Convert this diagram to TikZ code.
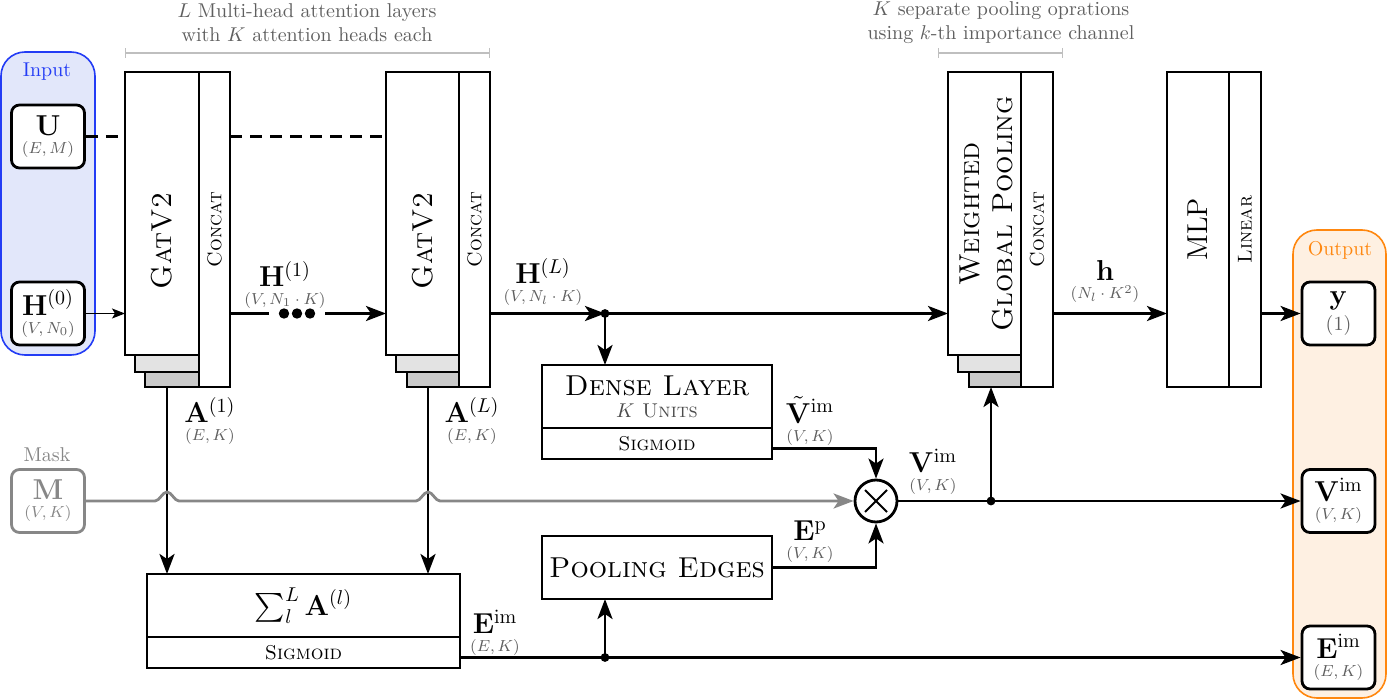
\documentclass[tikz,border=0pt]{standalone}
\usepackage{amsmath,amssymb}
\usetikzlibrary{arrows.meta, positioning, calc}
\definecolor{inblue}{RGB}{35,60,245}
\definecolor{inbg}{RGB}{226,231,250}
\definecolor{outorange}{RGB}{255,135,15}
\definecolor{outbg}{RGB}{254,240,226}
\definecolor{maskgray}{RGB}{135,135,135}
\definecolor{dimgray}{RGB}{95,95,95}

\newcommand{\tlbl}[2]{{\Large$#1$}\\[-3pt]{\footnotesize\color{dimgray}$#2$}}

\begin{document}
\begin{tikzpicture}[x=0.5pt, y=-0.5pt,
  blk/.style={draw, line width=1.4pt, fill=white, inner sep=0pt, outer sep=0pt},
  shade1/.style={draw, line width=1.4pt, fill=gray!22},
  shade2/.style={draw, line width=1.4pt, fill=gray!42},
  iobox/.style={draw, line width=1.4pt, fill=white, rounded corners=4pt, inner sep=0pt,
    minimum width=36.5pt, minimum height=31.5pt, align=center},
  lbl/.style={align=center, inner sep=0pt},
  conn/.style={line width=1.4pt, -{Stealth[length=10pt, width=7.5pt, inset=2.5pt]}},
  wire/.style={line width=1.4pt},
  brace/.style={draw=black!25, line width=0.7pt, {Bar[width=5pt]}-{Bar[width=5pt]}},
  note/.style={align=center, text=dimgray, inner sep=0pt}]
  \useasboundingbox (0,0) rectangle (1387,700);
  % Input / output panels
  \draw[inblue, fill=inbg, line width=0.8pt, rounded corners=12pt] (1,52) rectangle (95,355);
  \node[inblue] (inlbl) at (47,72) {Input};
  \draw[outorange, fill=outbg, line width=0.8pt, rounded corners=12pt] (1293,230) rectangle (1386,698);
  \node[outorange] (outlbl) at (1340,250) {Output};
  % Inputs
  \node[iobox] (u) at (48,136.5) {\tlbl{\mathbf{U}}{(E,M)}};
  \node[iobox] (h0) at (48,313.5) {\tlbl{\mathbf{H}^{(0)}}{(V,N_0)}};
  \node[iobox, draw=maskgray, text=maskgray] (mask) at (48,501) {{\Large$\mathbf{M}$}\\[-3pt]{\footnotesize$(V,K)$}};
  \node[maskgray] (masklbl) at (47,455) {Mask};
  % Layer 1
  \node[blk, minimum width=37pt, minimum height=141.5pt] (gat1) at (162,213.5) {};
  \filldraw[shade2] ([xshift=10pt]gat1.south west) rectangle ([yshift=-16pt]gat1.south east);
  \filldraw[shade1] ([xshift=5pt]gat1.south west) rectangle ([yshift=-8.5pt]gat1.south east);
  \node[blk, anchor=north west, minimum width=15.5pt, minimum height=157.5pt] (cat1) at (gat1.north east) {};
  \node[rotate=90, font=\Large\scshape] (gat1txt) at (162,241) {GatV2};
  \node[rotate=90, font=\scshape] (cat1txt) at (cat1) {Concat};
  % Layer L
  \node[blk, minimum width=36.5pt, minimum height=141.5pt] (gat2) at (422.5,213.5) {};
  \filldraw[shade2] ([xshift=10.5pt]gat2.south west) rectangle ([yshift=-16pt]gat2.south east);
  \filldraw[shade1] ([xshift=5pt]gat2.south west) rectangle ([yshift=-8.5pt]gat2.south east);
  \node[blk, anchor=north west, minimum width=15.5pt, minimum height=157.5pt] (cat2) at (gat2.north east) {};
  \node[rotate=90, font=\Large\scshape] (gat2txt) at (422.5,241) {GatV2};
  \node[rotate=90, font=\scshape] (cat2txt) at (cat2) {Concat};
  % Weighted pooling
  \node[blk, minimum width=36.5pt, minimum height=141.5pt] (gat3) at (984.5,213.5) {};
  \filldraw[shade2] ([xshift=10.5pt]gat3.south west) rectangle ([yshift=-16pt]gat3.south east);
  \filldraw[shade1] ([xshift=5pt]gat3.south west) rectangle ([yshift=-8.5pt]gat3.south east);
  \node[blk, anchor=north west, minimum width=16pt, minimum height=157.5pt] (cat3) at (gat3.north east) {};
  \node[rotate=90, font=\Large\scshape, align=center] (gat3txt) at (986,214) {Weighted\\[-1.5pt]Global Pooling};
  \node[rotate=90, font=\scshape] (cat3txt) at (cat3) {Concat};
  % MLP
  \node[blk, minimum width=31pt, minimum height=157.5pt] (mlp) at (1198,229.5) {};
  \node[blk, anchor=north west, minimum width=16pt, minimum height=157.5pt] (lin) at (mlp.north east) {};
  \node[rotate=90, font=\Large] (mlptxt) at (mlp) {MLP};
  \node[rotate=90, font=\scshape] (lintxt) at (lin) {Linear};
  % Dense, pooling edges, sum
  \node[blk, minimum width=115pt, minimum height=31.5pt, align=center] (dense) at (657,396.5)
    {{\Large\scshape Dense Layer}\\[-1pt]{\scshape\color{black!70}$K$ Units}};
  \node[blk, anchor=north, minimum width=115pt, minimum height=15.5pt, font=\scshape] (densesig) at (dense.south) {Sigmoid};
  \node[blk, minimum width=115pt, minimum height=31.5pt, font=\Large\scshape] (pool) at (657,567.5) {Pooling Edges};
  \node[blk, minimum width=156.5pt, minimum height=31.5pt, font=\Large] (sum) at (303.5,605.5) {$\sum_l^L \mathbf{A}^{(l)}$};
  \node[blk, anchor=north, minimum width=156.5pt, minimum height=15.5pt, font=\scshape] (sumsig) at (sum.south) {Sigmoid};
  \node[draw, circle, line width=1.4pt, minimum size=21pt, fill=white, inner sep=0pt] (ot) at (876,501) {};
  \draw[line width=0.9pt] ($(ot)+(-11,-11)$) -- ($(ot)+(11,11)$);
  \draw[line width=0.9pt] ($(ot)+(-11,11)$) -- ($(ot)+(11,-11)$);
  % Outputs
  \node[iobox] (yo) at (1338.5,313.5) {{\Large$\mathbf{y}$}\\[1pt]{\color{dimgray}(1)}};
  \node[iobox] (vimo) at (1338.5,501) {\tlbl{\mathbf{V}^{\mathrm{im}}}{(V,K)}};
  \node[iobox] (eimo) at (1338.5,657.5) {\tlbl{\mathbf{E}^{\mathrm{im}}}{(E,K)}};
  % Notes
  \draw[brace] ([yshift=9.5pt]gat1.north west) -- ([yshift=9.5pt]cat2.north east);
  \draw[brace] ([xshift=-5pt, yshift=9.5pt]gat3.north west) -- ([xshift=5pt, yshift=9.5pt]cat3.north east);
  \node[note] (note1) at (307,23) {$L$ Multi-head attention layers\\with $K$ attention heads each};
  \node[note] (note2) at (1001,23) {$K$ separate pooling oprations\\using $k$-th importance channel};
  % Connections
  \coordinate (j1) at (605,313.5);
  \coordinate (j2) at (605,657.5);
  \coordinate (j3) at (991,501);
  \coordinate (a1) at (167,387);
  \coordinate (aL) at (428,387);
  \draw[wire, dash pattern=on 6pt off 4pt] (u.east) -- (u.east -| gat1.west);
  \draw[wire, dash pattern=on 6pt off 4pt] (u.east -| cat1.east) -- (u.east -| gat2.west);
  \draw[line width=0.6pt, -{Stealth[length=6.5pt, width=5pt, inset=1.5pt]}] (h0.east) -- (h0.east -| gat1.west);
  \node[minimum width=28pt, minimum height=10pt, inner sep=0pt] (dots) at (297,313.5) {};
  \foreach \dx in {-13,0,13}
    \fill (dots.center) ++(\dx,0) circle (2.6pt);
  \draw[wire] (h0.east -| cat1.east) -- (dots.west);
  \draw[conn] (dots.east) -- (h0.east -| gat2.west);
  \draw[conn] (h0.east -| cat2.east) -- (j1);
  \draw[conn] (j1) -- (j1 -| gat3.west);
  \draw[conn] (j1) -- (j1 |- dense.north);
  \fill (j1) circle (2.2pt);
  \draw[conn] (h0.east -| cat3.east) -- (h0.east -| mlp.west);
  \draw[conn] (h0.east -| lin.east) -- (yo.west);
  \draw[conn] (a1) -- (a1 |- sum.north);
  \draw[conn] (aL) -- (aL |- sum.north);
  \draw[maskgray, line width=1.4pt, -{Stealth[length=10pt, width=7.5pt, inset=2.5pt]}]
    (mask.east) -- ($(a1 |- mask.east)+(-12,0)$)
      to[out=0, in=180, looseness=0.8] ++(12,-9) to[out=0, in=180, looseness=0.8] ++(12,9)
    -- ($(aL |- mask.east)+(-12,0)$)
      to[out=0, in=180, looseness=0.8] ++(12,-9) to[out=0, in=180, looseness=0.8] ++(12,9)
    -- (ot.west);
  \draw[conn] ([yshift=-2.5pt]densesig.east) -| (ot.north);
  \draw[conn] (pool.east) -| (ot.south);
  \draw[conn] (ot.east) -- (vimo.west);
  \draw[conn] (j3) -- (j3 |- cat3.south);
  \fill (j3) circle (2.2pt);
  \draw[conn] ([yshift=-2.5pt]sumsig.east) -- (eimo.west);
  \draw[conn] (j2) -- (j2 |- pool.south);
  \fill (j2) circle (2.2pt);
  % Labels
  \node[lbl] (lh1) at (285,285) {\tlbl{\mathbf{H}^{(1)}}{(V,N_1\cdot K)}};
  \node[lbl] (lhl) at (543,282) {\tlbl{\mathbf{H}^{(L)}}{(V,N_l\cdot K)}};
  \node[lbl] (la1) at (210,421) {\tlbl{\mathbf{A}^{(1)}}{(E,K)}};
  \node[lbl] (lal) at (472,421) {\tlbl{\mathbf{A}^{(L)}}{(E,K)}};
  \node[lbl] (lvt) at (810,421) {\tlbl{\tilde{\mathbf{V}}^{\mathrm{im}}}{(V,K)}};
  \node[lbl] (lvim) at (933,472) {\tlbl{\mathbf{V}^{\mathrm{im}}}{(V,K)}};
  \node[lbl] (lep) at (810,542) {\tlbl{\mathbf{E}^{\mathrm{p}}}{(V,K)}};
  \node[lbl] (lh) at (1105,282) {\tlbl{\mathbf{h}}{(N_l\cdot K^2)}};
  \node[lbl] (leim) at (495,633) {\tlbl{\mathbf{E}^{\mathrm{im}}}{(E,K)}};
\end{tikzpicture}
\end{document}
